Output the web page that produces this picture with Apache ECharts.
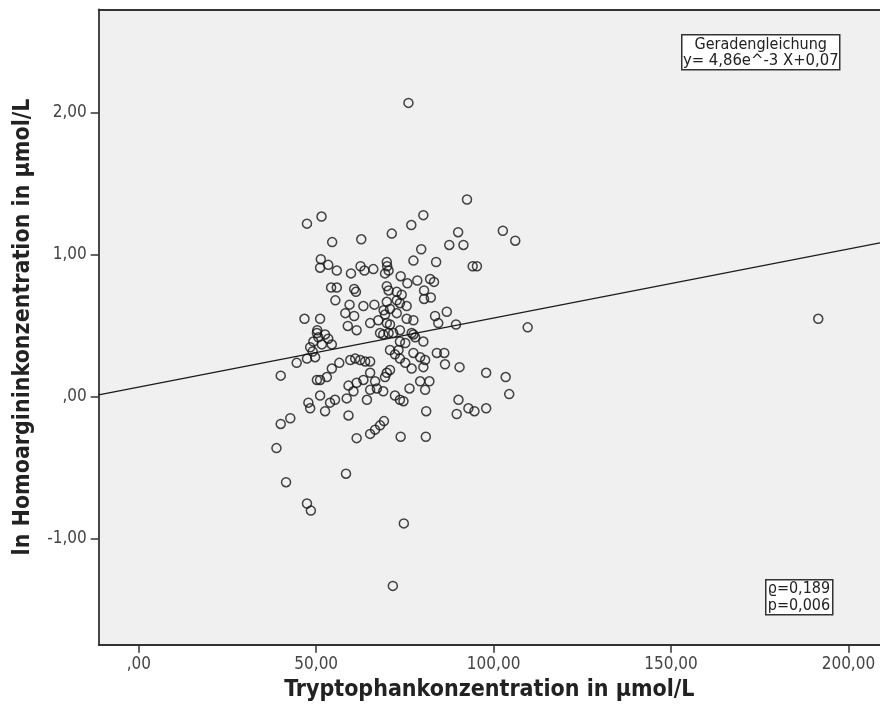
<!DOCTYPE html>
<html>
<head>
<meta charset="utf-8">
<script src="https://cdn.jsdelivr.net/npm/echarts@6/dist/echarts.min.js"></script>
<style>
  html, body { margin: 0; padding: 0; background: #ffffff; }
  #chart { width: 880px; height: 713px; }
</style>
</head>
<body>
<div id="chart"></div>
<script>
// Tryptophan concentration (µmol/L) per subject
const tryptophan = [
  76.0, 92.5, 47.4, 51.5, 80.2, 76.8, 71.3, 90.0, 102.6, 106.1,
  87.5, 91.5, 79.6, 77.4, 83.8, 94.1, 95.3, 69.9, 70.0, 70.4,
  73.8, 69.4, 75.7, 78.5, 82.1, 83.2, 69.9, 70.4, 72.7, 74.1,
  80.4, 80.4, 82.3, 69.9, 72.7, 73.6, 75.5, 86.8, 83.5, 69.0,
  70.8, 72.7, 109.6, 89.4, 84.4, 77.4, 75.5, 77.9, 77.4, 76.9,
  80.2, 73.6, 75.1, 84.0, 86.1, 86.3, 90.4, 97.9, 103.4, 104.4,
  79.3, 81.9, 80.7, 76.3, 68.9, 72.2, 73.6, 74.6, 90.1, 92.9,
  94.6, 89.6, 97.9, 81.0, 73.8, 80.9,
  54.5, 62.7, 51.3, 51.1, 53.4, 55.8, 59.8, 62.5, 63.6, 66.1,
  54.2, 55.8, 60.7, 61.2, 55.4, 59.4, 63.3, 66.4, 58.2, 60.7,
  46.7, 51.1,
  58.9, 61.4, 65.2, 67.5, 69.9, 70.4, 68.0, 50.3, 50.2, 50.6,
  52.5, 53.4, 49.2, 48.3, 51.6, 54.4, 47.4, 49.7, 49.0, 44.5,
  40.0, 50.2, 51.1, 53.0, 54.4, 56.5, 59.6, 61.0, 62.4, 63.8,
  65.2, 59.1, 61.4, 63.3, 65.2, 66.6, 69.4, 70.8, 58.6, 60.5,
  64.3, 65.2, 67.1, 51.1, 47.8, 48.3, 53.9, 55.3, 52.5, 59.1,
  42.7, 40.0, 61.4, 65.2, 66.6, 68.0, 69.1,
  38.8, 41.5, 58.4, 47.4, 48.5, 74.7, 71.6, 191.5,
  70.8, 73.2, 72.2, 73.6, 77.4, 79.3, 80.7, 80.2, 75.1, 76.9,
  69.9, 69.4, 68.9, 70.8, 71.7, 73.6
];

// ln of homoarginine concentration (µmol/L), same order as above
const lnHomoarginine = [
  2.07, 1.39, 1.22, 1.27, 1.28, 1.21, 1.15, 1.16, 1.17, 1.10,
  1.07, 1.07, 1.04, 0.96, 0.95, 0.92, 0.92, 0.95, 0.92, 0.89,
  0.85, 0.87, 0.80, 0.82, 0.83, 0.81, 0.78, 0.75, 0.74, 0.72,
  0.75, 0.69, 0.70, 0.67, 0.68, 0.66, 0.64, 0.60, 0.57, 0.61,
  0.62, 0.59, 0.49, 0.51, 0.52, 0.54, 0.55, 0.42, 0.44, 0.45,
  0.39, 0.39, 0.38, 0.31, 0.31, 0.23, 0.21, 0.17, 0.14, 0.02,
  0.11, 0.11, 0.05, 0.06, 0.04, 0.01, -0.02, -0.03, -0.02, -0.08,
  -0.10, -0.12, -0.08, -0.10, -0.28, -0.28,
  1.09, 1.11, 0.97, 0.91, 0.93, 0.89, 0.87, 0.92, 0.89, 0.90,
  0.77, 0.77, 0.76, 0.74, 0.68, 0.65, 0.64, 0.65, 0.59, 0.57,
  0.55, 0.55,
  0.50, 0.47, 0.52, 0.54, 0.52, 0.45, 0.45, 0.47, 0.45, 0.42,
  0.44, 0.41, 0.39, 0.35, 0.37, 0.37, 0.27, 0.28, 0.32, 0.24,
  0.15, 0.12, 0.12, 0.14, 0.20, 0.24, 0.26, 0.27, 0.26, 0.25,
  0.25, 0.08, 0.10, 0.12, 0.17, 0.11, 0.14, 0.19, -0.01, 0.04,
  -0.02, 0.05, 0.06, 0.01, -0.04, -0.08, -0.04, -0.02, -0.10, -0.13,
  -0.15, -0.19, -0.29, -0.26, -0.23, -0.20, -0.17,
  -0.36, -0.60, -0.54, -0.75, -0.80, -0.89, -1.33, 0.55,
  0.33, 0.33, 0.30, 0.27, 0.31, 0.28, 0.26, 0.21, 0.24, 0.20,
  0.17, 0.58, 0.44, 0.51, 0.45, 0.47
];

// Axis ranges and tick values
const xRange = [-11.3, 208.9];
const yRange = [-1.744, 2.729];
const xTicks = [0, 50, 100, 150, 200];
const yTicks = [-1, 0, 1, 2];

// Linear fit: y = 4,86e-3 * x + 0,07
const slope = 4.86e-3;
const intercept = 0.07;
const fitText = ['Geradengleichung', 'y= 4,86e^-3 X+0,07'];
const corrText = ['\u03f1=0,189', 'p=0,006'];

const xTitle = 'Tryptophankonzentration in \u00b5mol/L';
const yTitle = 'ln Homoargininkonzentration in \u00b5mol/L';

const points = tryptophan.map((x, i) => [x, lnHomoarginine[i]]);
const fitLine = xRange.map(x => [x, intercept + slope * x]);

// German number format: 50,00 / ,00 / -1,00
function deFormat(v) {
  let s = Math.abs(v).toFixed(2).replace('.', ',');
  if (s.startsWith('0,')) s = s.slice(1);
  return (v < 0 ? '-' : '') + s;
}

const FONT = '"DejaVu Sans Condensed", "DejaVu Sans", sans-serif';
const FRAME = { color: '#333333', width: 1.8 };

const chart = echarts.init(document.getElementById('chart'), null, { renderer: 'canvas' });

chart.setOption({
  animation: false,
  backgroundColor: '#ffffff',
  grid: {
    left: 98.7,
    top: 9.3,
    right: 0,
    bottom: 68.3,
    show: true,
    backgroundColor: '#f0f0f0',
    borderWidth: 0
  },
  xAxis: [
    {
      type: 'value',
      position: 'bottom',
      min: xRange[0],
      max: xRange[1],
      name: xTitle,
      nameLocation: 'middle',
      nameGap: 34,
      nameTextStyle: { fontFamily: FONT, fontWeight: 'bold', fontSize: 23, color: '#222222' },
      axisLine: { show: true, onZero: false, lineStyle: FRAME },
      splitLine: { show: false },
      axisTick: {
        show: true, length: 8, customValues: xTicks,
        lineStyle: { color: '#333333', width: 1.5 }
      },
      axisLabel: {
        customValues: xTicks, margin: 11,
        fontFamily: FONT, fontSize: 17, color: '#444444',
        formatter: deFormat
      }
    },
    {
      // top edge of the plot frame
      type: 'value',
      position: 'top',
      min: xRange[0],
      max: xRange[1],
      axisLine: { show: true, onZero: false, lineStyle: FRAME },
      axisTick: { show: false },
      axisLabel: { show: false },
      splitLine: { show: false }
    }
  ],
  yAxis: {
    type: 'value',
    min: yRange[0],
    max: yRange[1],
    name: yTitle,
    nameLocation: 'middle',
    nameRotate: 90,
    nameGap: 64,
    nameTextStyle: { fontFamily: FONT, fontWeight: 'bold', fontSize: 23, color: '#222222' },
    axisLine: { show: true, onZero: false, lineStyle: FRAME },
    splitLine: { show: false },
    axisTick: {
      show: true, length: 8, customValues: yTicks,
      lineStyle: { color: '#333333', width: 1.5 }
    },
    axisLabel: {
      customValues: yTicks, margin: 12,
      fontFamily: FONT, fontSize: 17, color: '#444444',
      formatter: deFormat
    }
  },
  series: [
    {
      type: 'line',
      xAxisIndex: 0,
      data: fitLine,
      showSymbol: false,
      silent: true,
      lineStyle: { color: '#1a1a1a', width: 1.3 },
      z: 1
    },
    {
      type: 'scatter',
      xAxisIndex: 0,
      data: points,
      symbol: 'circle',
      symbolSize: 9,
      itemStyle: { color: 'rgba(0,0,0,0)', borderColor: '#151515', borderWidth: 1.5 },
      z: 2
    }
  ],
  graphic: [
    {
      type: 'group',
      left: 681,
      top: 34,
      z: 10,
      children: [
        {
          type: 'rect',
          shape: { x: 0, y: 0, width: 158, height: 35 },
          style: { fill: '#ffffff', stroke: '#333333', lineWidth: 1.5 }
        },
        {
          type: 'text',
          x: 79, y: 2,
          style: {
            text: fitText[0], align: 'center', verticalAlign: 'top',
            font: '16px ' + FONT, fill: '#222222'
          }
        },
        {
          type: 'text',
          x: 79, y: 17,
          style: {
            text: fitText[1], align: 'center', verticalAlign: 'top',
            font: '16.5px ' + FONT, fill: '#222222'
          }
        }
      ]
    },
    {
      type: 'group',
      left: 765,
      top: 579,
      z: 10,
      children: [
        {
          type: 'rect',
          shape: { x: 0, y: 0, width: 67, height: 35 },
          style: { fill: '#ffffff', stroke: '#333333', lineWidth: 1.5 }
        },
        {
          type: 'text',
          x: 2, y: 1,
          style: {
            text: corrText.join('\n'), align: 'left', verticalAlign: 'top',
            font: '16px ' + FONT, lineHeight: 16.5, fill: '#222222'
          }
        }
      ]
    }
  ]
});
</script>
</body>
</html>
